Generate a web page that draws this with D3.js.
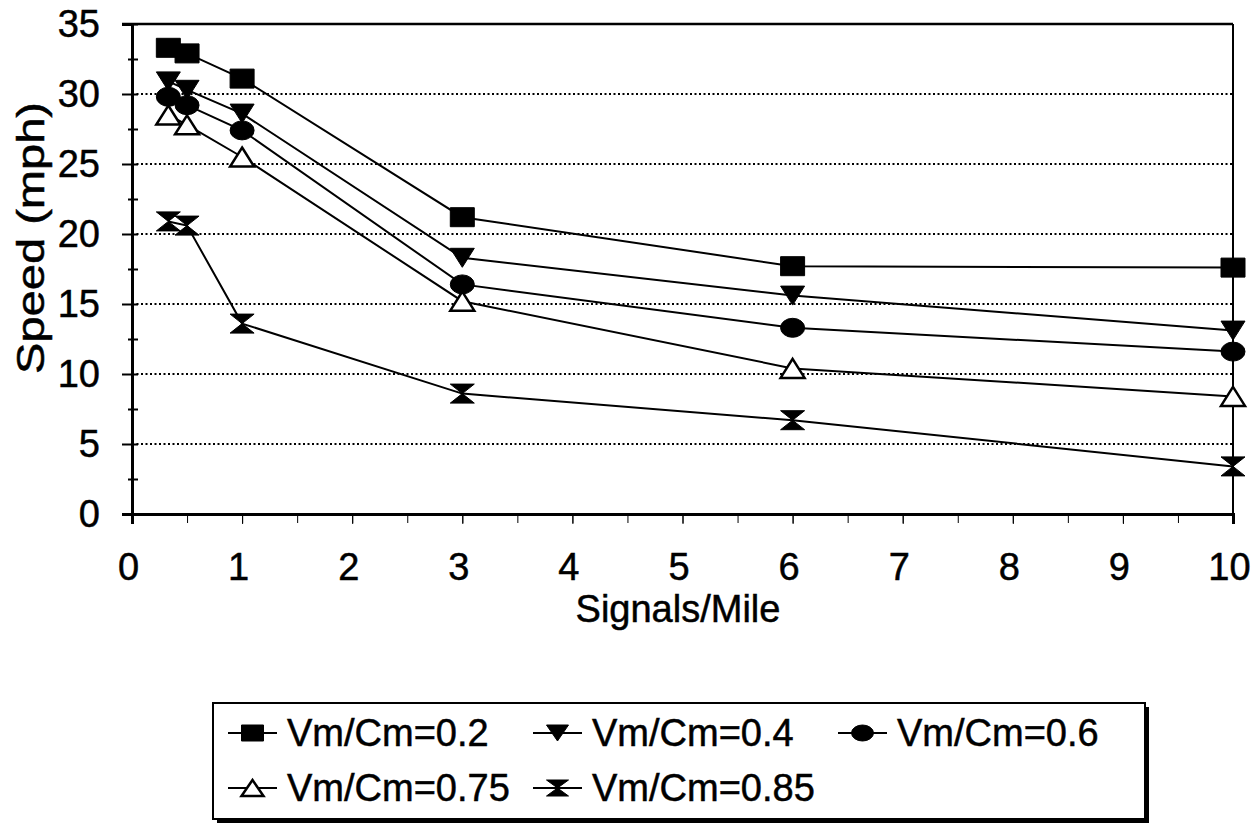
<!DOCTYPE html>
<html>
<head>
<meta charset="utf-8">
<script src="https://cdn.jsdelivr.net/npm/d3@7"></script>
<style>
  body { margin: 0; background: #fff; }
  svg { display: block; }
  text { font-family: "Liberation Sans", Arial, sans-serif; fill: #000; stroke: #000; stroke-width: 0.5px; }
</style>
</head>
<body>
<svg id="chart" width="1255" height="824"></svg>
<script>
// signals per mile
var signals = [0.33, 0.5, 1, 3, 6, 10];

var seriesNames = ["Vm/Cm=0.2", "Vm/Cm=0.4", "Vm/Cm=0.6", "Vm/Cm=0.75", "Vm/Cm=0.85"];
var speed02  = [33.3, 32.9, 31.1, 21.2, 17.7, 17.6];
var speed04  = [30.9, 30.3, 28.6, 18.3, 15.6, 13.1];
var speed06  = [29.8, 29.2, 27.4, 16.4, 13.3, 11.6];
var speed075 = [28.5, 27.8, 25.5, 15.2, 10.4, 8.4];
var speed085 = [20.9, 20.6, 13.6, 8.6, 6.7, 3.4];
var markerTypes = ["square", "down", "circle", "up", "hourglass"];

var xTicks = [0, 1, 2, 3, 4, 5, 6, 7, 8, 9, 10];
var yTicks = [0, 5, 10, 15, 20, 25, 30, 35];
var gridVals = [5, 10, 15, 20, 25, 30];

var allSeries = [speed02, speed04, speed06, speed075, speed085];

var svg = d3.select("#chart");
var x = d3.scaleLinear().domain([0, 10]).range([132, 1233]);
var y = d3.scaleLinear().domain([0, 35]).range([514, 24]);

function markerPath(type, w, h) {
  var a = w / 2, b = h / 2;
  if (type == "square") return "M" + (-a) + "," + (-b) + "H" + a + "V" + b + "H" + (-a) + "Z";
  if (type == "down") return "M" + (-a) + "," + (-b) + "H" + a + "L0," + b + "Z";
  if (type == "up") return "M0," + (-b) + "L" + a + "," + b + "H" + (-a) + "Z";
  if (type == "hourglass") return "M" + (-a) + "," + (-b) + "H" + a + "L0,0L" + a + "," + b + "H" + (-a) + "L0,0Z";
  // ellipse
  return "M" + (-a) + ",0A" + a + "," + b + " 0 1,0 " + a + ",0A" + a + "," + b + " 0 1,0 " + (-a) + ",0Z";
}

// gridlines
svg.append("g").selectAll("line").data(gridVals).enter().append("line")
  .attr("x1", x(0)).attr("x2", x(10))
  .attr("y1", function(d) { return y(d); }).attr("y2", function(d) { return y(d); })
  .attr("stroke", "#000").attr("stroke-width", 2).attr("stroke-dasharray", "2,2.5");

// frame top / right
svg.append("line").attr("x1", 122).attr("x2", x(10)).attr("y1", y(35)).attr("y2", y(35))
  .attr("stroke", "#000").attr("stroke-width", 2.5);
svg.append("line").attr("x1", x(10)).attr("x2", x(10)).attr("y1", y(35)).attr("y2", y(0) + 9)
  .attr("stroke", "#000").attr("stroke-width", 2);

// x axis
var xMinor = svg.append("g").attr("transform", "translate(0," + y(0) + ")")
  .call(d3.axisBottom(x).tickValues(d3.range(0, 10.01, 0.5)).tickSize(9).tickFormat(""));
var xAxis = svg.append("g").attr("transform", "translate(0," + y(0) + ")")
  .call(d3.axisBottom(x).tickValues(xTicks).tickSize(10).tickPadding(29).tickFormat(d3.format("d")));
xAxis.selectAll("text").style("font-size", "38px").attr("dx", -4);
xMinor.select(".domain").remove();
xAxis.select(".domain").attr("stroke-width", 3);

// y axis
var yMinor = svg.append("g").attr("transform", "translate(" + x(0) + ",0)")
  .call(d3.axisLeft(y).tickValues(d3.range(2.5, 35, 5)).tickSize(4).tickFormat(""));
yMinor.selectAll(".tick line").attr("x1", 6).attr("stroke-width", 2);
yMinor.select(".domain").remove();
var yAxis = svg.append("g").attr("transform", "translate(" + x(0) + ",0)")
  .call(d3.axisLeft(y).tickValues(yTicks).tickSize(10).tickPadding(22));
yAxis.selectAll(".tick line").attr("x1", 6).attr("stroke-width", 2);
yAxis.selectAll("text").style("font-size", "38px");
yAxis.select(".domain").attr("stroke-width", 3);
svg.selectAll(".domain, .tick line").attr("stroke", "#000");

// titles
svg.append("text").attr("x", 678).attr("y", 622).attr("text-anchor", "middle")
  .style("font-size", "38px").text("Signals/Mile");
svg.append("text").attr("transform", "translate(44,238) rotate(-90)").attr("text-anchor", "middle")
  .attr("textLength", 272).attr("lengthAdjust", "spacingAndGlyphs")
  .style("font-size", "38px").text("Speed (mph)");

// series
var line = d3.line().x(function(d) { return x(d[0]); }).y(function(d) { return y(d[1]); });
allSeries.forEach(function(vals, k) {
  var pts = signals.map(function(s, i) { return [s, vals[i]]; });
  var g = svg.append("g");
  g.append("path").attr("d", line(pts)).attr("fill", "none").attr("stroke", "#000").attr("stroke-width", 2);
  g.selectAll("path.m").data(pts).enter().append("path").attr("class", "m")
    .attr("transform", function(d) { return "translate(" + x(d[0]) + "," + y(d[1]) + ")"; })
    .attr("d", markerPath(markerTypes[k], 24, 19))
    .attr("fill", markerTypes[k] == "up" ? "#fff" : "#000")
    .attr("stroke", "#000").attr("stroke-width", markerTypes[k] == "up" ? 2.5 : 1);
});

// legend
var leg = svg.append("g");
leg.append("rect").attr("x", 217).attr("y", 707).attr("width", 932).attr("height", 116).attr("fill", "#000");
leg.append("rect").attr("x", 213).attr("y", 703).attr("width", 932).attr("height", 116)
  .attr("fill", "#fff").attr("stroke", "#000").attr("stroke-width", 2);
seriesNames.forEach(function(name, i) {
  var col = i % 3, row = Math.floor(i / 3);
  var x0 = 228 + col * 305, cy = 733 + row * 55;
  leg.append("line").attr("x1", x0).attr("x2", x0 + 49).attr("y1", cy).attr("y2", cy)
    .attr("stroke", "#000").attr("stroke-width", 2);
  leg.append("path").attr("transform", "translate(" + (x0 + 24.5) + "," + cy + ")")
    .attr("d", markerPath(markerTypes[i], 22, 16))
    .attr("fill", markerTypes[i] == "up" ? "#fff" : "#000")
    .attr("stroke", "#000").attr("stroke-width", markerTypes[i] == "up" ? 2.5 : 1);
  leg.append("text").attr("x", x0 + 59).attr("y", cy + 13).style("font-size", "38px").text(name);
});
</script>
</body>
</html>
